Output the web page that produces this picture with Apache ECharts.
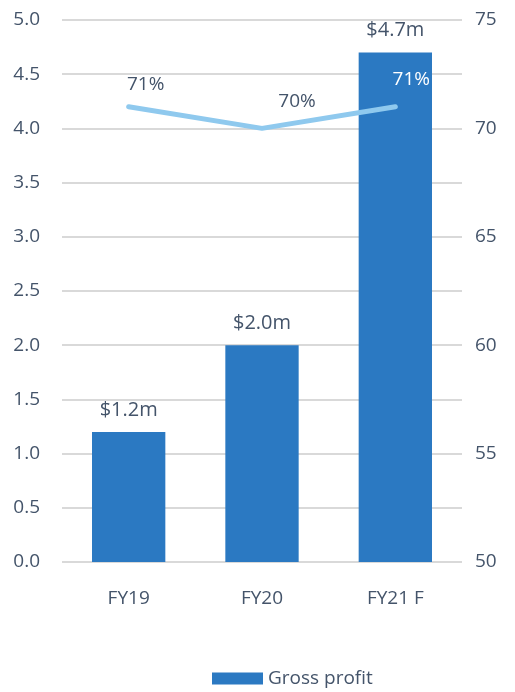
<!DOCTYPE html>
<html>
<head>
<meta charset="utf-8">
<script src="https://cdn.jsdelivr.net/npm/echarts@6/dist/echarts.min.js"></script>
<style>
  html, body { margin: 0; padding: 0; background: #fff; }
  #chart { width: 515px; height: 692px; }
</style>
</head>
<body>
<div id="chart"></div>
<script>
// categories and values
const years = ['FY19', 'FY20', 'FY21 F'];
const grossProfit = [1.2, 2.0, 4.7];
const profitLabels = ['$1.2m', '$2.0m', '$4.7m'];
const marginPct = [71, 70, 71];

const textColor = '#44546A';
// label placement of the margin labels next to the line points
const marginLabelOffsets = [[17, 0], [35, -5], [16, -5]];
const marginLabelColors = [textColor, textColor, '#ffffff'];

const chart = echarts.init(document.getElementById('chart'));

const option = {
  animation: false,
  textStyle: { fontFamily: 'Open Sans, sans-serif' },
  grid: { left: 62, right: 53, top: 20, bottom: 130 },
  legend: {
    data: ['Gross profit'],
    top: 664,
    left: 207,
    icon: 'rect',
    itemWidth: 51,
    itemHeight: 12,
    itemGap: 4,
    textStyle: { color: textColor, fontSize: 19 }
  },
  xAxis: {
    type: 'category',
    data: years,
    axisLine: { show: false },
    axisTick: { show: false },
    axisLabel: { color: textColor, fontSize: 19, margin: 27 }
  },
  yAxis: [{
    type: 'value',
    min: 0, max: 5, interval: 0.5,
    axisLabel: {
      color: textColor, fontSize: 19, margin: 22,
      formatter: v => v.toFixed(1)
    },
    splitLine: { lineStyle: { color: '#d9d9d9', width: 2 } }
  }, {
    type: 'value',
    min: 50, max: 75, interval: 5,
    position: 'right',
    axisLabel: { color: textColor, fontSize: 19, margin: 13 },
    splitLine: { show: false }
  }],
  series: [{
    name: 'Gross profit',
    type: 'bar',
    data: grossProfit,
    barWidth: '55%',
    itemStyle: { color: '#2B79C2' },
    label: {
      show: true,
      position: 'top',
      distance: 12,
      color: textColor,
      fontSize: 20,
      formatter: p => profitLabels[p.dataIndex]
    }
  }, {
    name: 'Margin',
    type: 'line',
    yAxisIndex: 1,
    data: marginPct.map((v, i) => ({
      value: v,
      label: { color: marginLabelColors[i], offset: marginLabelOffsets[i] }
    })),
    symbol: 'circle',
    symbolSize: 1,
    itemStyle: { color: 'rgba(0,0,0,0)' },
    lineStyle: { color: '#8FC9EE', width: 5, cap: 'round' },
    label: {
      show: true,
      position: 'top',
      distance: 12,
      fontSize: 19,
      formatter: p => p.value + '%'
    }
  }]
};

chart.setOption(option);
</script>
</body>
</html>
